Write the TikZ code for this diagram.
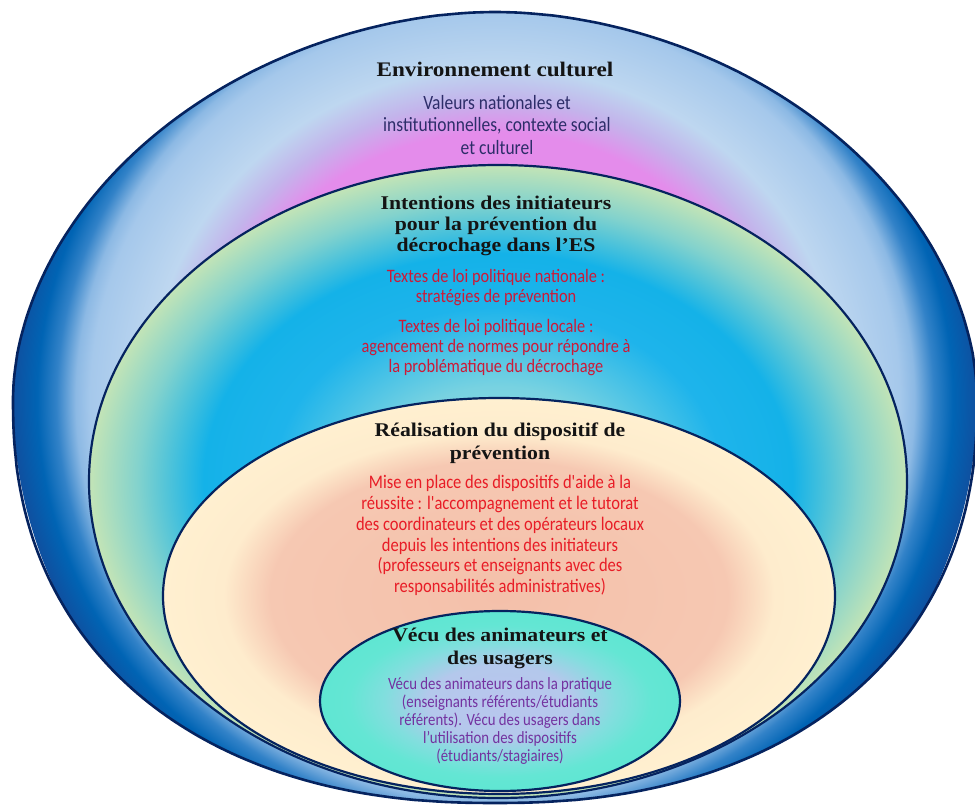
\documentclass[tikz,border=0pt]{standalone}
\usepackage{fontspec}
\newfontfamily\bodyfont[FakeStretch=0.86,Ligatures=TeXOff]{Carlito}
\newfontfamily\headfont[FakeStretch=1.12]{Liberation Serif}

\definecolor{navyline}{RGB}{5,35,95}
\definecolor{txtnavy}{RGB}{45,45,105}
\definecolor{txtcrimson}{RGB}{205,25,55}
\definecolor{txtred}{RGB}{232,28,38}
\definecolor{txtpurple}{RGB}{115,50,160}

% outer zone: pink centre, light blue, dark blue sides
\pgfdeclareradialshading{outershade}{\pgfpoint{0bp}{0bp}}{%
 rgb(0bp)=(0.894,0.549,0.922);
 rgb(14.5bp)=(0.894,0.549,0.922);
 rgb(16.25bp)=(0.765,0.706,0.922);
 rgb(18bp)=(0.745,0.843,0.941);
 rgb(21bp)=(0.647,0.784,0.922);
 rgb(21.75bp)=(0.549,0.725,0.894);
 rgb(22.75bp)=(0.196,0.510,0.784);
 rgb(23.75bp)=(0,0.392,0.706);
 rgb(25bp)=(0.059,0.314,0.627);
 rgb(50bp)=(0.059,0.314,0.627)}
% second zone: pale green edge, cyan
\pgfdeclareradialshading{secondshade}{\pgfpoint{0bp}{0bp}}{%
 rgb(0bp)=(0.588,0.863,0.882);
 rgb(7.5bp)=(0.471,0.824,0.882);
 rgb(13.75bp)=(0.118,0.706,0.922);
 rgb(18bp)=(0.078,0.698,0.910);
 rgb(22bp)=(0.510,0.824,0.804);
 rgb(25bp)=(0.765,0.894,0.714);
 rgb(50bp)=(0.765,0.894,0.714)}
% third zone: cream edge, peach centre
\pgfdeclareradialshading{thirdshade}{\pgfpoint{0bp}{0bp}}{%
 rgb(0bp)=(0.957,0.753,0.667);
 rgb(17bp)=(0.965,0.784,0.698);
 rgb(20.5bp)=(0.996,0.925,0.804);
 rgb(25bp)=(1,0.941,0.816);
 rgb(50bp)=(1,0.941,0.816)}
% fourth zone: turquoise edge, lavender centre
\pgfdeclareradialshading{fourthshade}{\pgfpoint{0bp}{0bp}}{%
 rgb(0bp)=(0.725,0.776,0.933);
 rgb(10bp)=(0.706,0.784,0.925);
 rgb(16bp)=(0.510,0.871,0.871);
 rgb(21bp)=(0.392,0.902,0.831);
 rgb(25bp)=(0.373,0.902,0.824);
 rgb(50bp)=(0.373,0.902,0.824)}

\tikzset{
  zoneline/.style={draw=navyline, line width=2.2pt},
  hd/.style={anchor=base, inner sep=0pt, text=black!92,
    font=\headfont\bfseries\fontsize{19.4}{22}\selectfont},
  hdbig/.style={hd, font=\headfont\bfseries\fontsize{20.7}{24}\selectfont},
  bodyA/.style={anchor=base, inner sep=0pt, text=txtnavy,
    font=\bodyfont\fontsize{20.3}{24}\selectfont},
  bodyB/.style={anchor=base, inner sep=0pt, text=txtcrimson,
    font=\bodyfont\fontsize{19}{22}\selectfont},
  bodyC/.style={anchor=base, inner sep=0pt, text=txtred,
    font=\bodyfont\fontsize{19.2}{22}\selectfont},
  bodyD/.style={anchor=base, inner sep=0pt, text=txtpurple,
    font=\bodyfont\fontsize{17.2}{20}\selectfont},
}

% outer zone outline: egg-like (pointed top, full bottom)
\def\outerpath{plot[domain=0.5:360.5, samples=361, variable=\t]
  ({495 + 482*(cos(\t)>0 ? 1 : -1)*abs(cos(\t))^(sin(\t)>0 ? 0.8889 : 1.0526)},
   {400 + (sin(\t)>0 ? 403*abs(sin(\t))^0.8889 : -388*abs(sin(\t))^1.0526)}) -- cycle}

\begin{document}
\begin{tikzpicture}[x=1pt, y=-1pt]
\useasboundingbox (0,0) rectangle (975,805);

% outer zone
\begin{scope}
  \clip \outerpath;
  \shade[shading=outershade] (495,400) ellipse [x radius=482, y radius=462];
\end{scope}
\draw[zoneline, line width=2.6pt] \outerpath;

% second zone
\shade[shading=secondshade] (498,481.5) ellipse [x radius=409, y radius=316.5];
\draw[zoneline] (498,481.5) ellipse [x radius=409, y radius=316.5];

% third zone
\shade[shading=thirdshade] (499,596) ellipse [x radius=336, y radius=198];
\draw[zoneline] (499,596) ellipse [x radius=336, y radius=198];

% fourth zone
\shade[shading=fourthshade] (500,701) ellipse [x radius=180, y radius=90];
\draw[zoneline] (500,701) ellipse [x radius=180, y radius=90];

% texts: cultural environment
\node[hdbig] (h1) at (495,77) {Environnement culturel};
\node[bodyA] (a1) at (497,109.5) {Valeurs nationales et};
\node[bodyA] (a2) at (497,132) {institutionnelles, contexte social};
\node[bodyA] (a3) at (497,154.5) {et culturel};

% initiators' intentions
\node[hd] (h2a) at (496,209.5) {Intentions des initiateurs};
\node[hd] (h2b) at (496,230.5) {pour la prévention du};
\node[hd] (h2c) at (496,251.5) {décrochage dans l’ES};
\node[bodyB] (b1) at (496,282.3) {Textes de loi politique nationale :};
\node[bodyB] (b2) at (496,302.7) {stratégies de prévention};
\node[bodyB] (b3) at (496,332.7) {Textes de loi politique locale :};
\node[bodyB] (b4) at (496,352.7) {agencement de normes pour répondre à};
\node[bodyB] (b5) at (496,372.3) {la problématique du décrochage};

% realisation
\node[hd] (h3a) at (500,436.7) {Réalisation du dispositif de};
\node[hd] (h3b) at (500,459.3) {prévention};
\node[bodyC] (c1) at (500,488.3) {Mise en place des dispositifs d'aide à la};
\node[bodyC] (c2) at (500,509.3) {réussite : l'accompagnement et le tutorat};
\node[bodyC] (c3) at (500,530.2) {des coordinateurs et des opérateurs locaux};
\node[bodyC] (c4) at (500,551) {depuis les intentions des initiateurs};
\node[bodyC] (c5) at (500,571.8) {(professeurs et enseignants avec des};
\node[bodyC] (c6) at (500,592.6) {responsabilités administratives)};

% lived experience
\node[hd] (h4a) at (500,641.7) {Vécu des animateurs et};
\node[hd] (h4b) at (500,664) {des usagers};
\node[bodyD] (d1) at (500,689.3) {Vécu des animateurs dans la pratique};
\node[bodyD] (d2) at (500,707.3) {(enseignants référents/étudiants};
\node[bodyD] (d3) at (500,725.3) {référents). Vécu des usagers dans};
\node[bodyD] (d4) at (500,743.3) {l’utilisation des dispositifs};
\node[bodyD] (d5) at (500,761.4) {(étudiants/stagiaires)};
\end{tikzpicture}
\end{document}
